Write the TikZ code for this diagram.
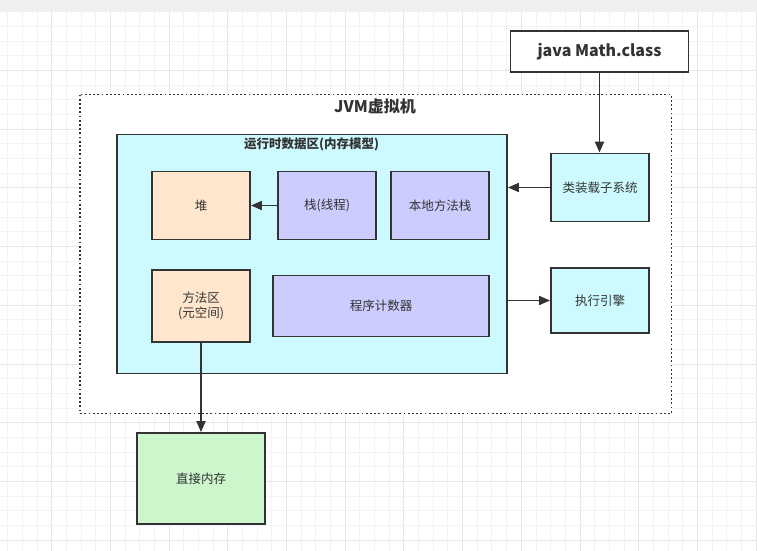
\documentclass[tikz,border=0pt]{standalone}
\usepackage{fontspec}
\setmainfont{Noto Sans CJK SC}
\usetikzlibrary{arrows.meta}
\definecolor{edge}{RGB}{51,51,51}
\definecolor{cyanfill}{RGB}{204,250,255}
\definecolor{peach}{RGB}{255,230,204}
\definecolor{lilac}{RGB}{204,204,255}
\definecolor{mint}{RGB}{204,246,204}
\definecolor{gridminor}{RGB}{243,243,243}
\definecolor{gridmajor}{RGB}{230,230,230}

\begin{document}
\begin{tikzpicture}[x=1pt, y=-1pt,
	box/.style={draw=edge, line width=1.8pt, rectangle, inner sep=0pt, text=edge, font=\fontsize{12.5}{15}\selectfont},
	link/.style={draw=edge, line width=1.8pt, -{Triangle[length=11pt,width=9pt]}}]
		%%%%% START %%%%%
		
		\useasboundingbox (0, 0) rectangle (757, 551);
		\fill[white] (0, 0) rectangle (757, 551);
		\fill[black!6] (0, 0) rectangle (757, 11.8);
		
		\foreach \i in {0,...,51} {
			\pgfmathtruncatemacro{\major}{mod(\i,4)==3}
			\ifnum\major=1
				\draw[gridmajor, line width=1pt] ({7.7+14.675*\i}, 11.8) -- ({7.7+14.675*\i}, 551);
			\else
				\draw[gridminor, line width=1pt] ({7.7+14.675*\i}, 11.8) -- ({7.7+14.675*\i}, 551);
			\fi
		}
		\foreach \k in {1,...,37} {
			\pgfmathtruncatemacro{\major}{mod(\k,4)==0}
			\ifnum\major=1
				\draw[gridmajor, line width=1pt] (0, {11.8+14.675*\k}) -- (757, {11.8+14.675*\k});
			\else
				\draw[gridminor, line width=1pt] (0, {11.8+14.675*\k}) -- (757, {11.8+14.675*\k});
			\fi
		}
		
		\draw[fill=white, draw=edge, line width=1.8pt, dash pattern=on 1.8pt off 2.4pt] (80, 94.5) rectangle (671.5, 413.5);
		\node[text=edge, font=\fontsize{16}{19}\selectfont\bfseries] (jvmtitle) at (375, 106) {JVM虚拟机};
		
		\node[box, fill=white, minimum width=178pt, minimum height=41pt, font=\fontsize{16}{19}\selectfont\bfseries] (classfile) at (599.5, 51.5) {java Math.class};
		
		\node[box, fill=cyanfill, minimum width=390pt, minimum height=239pt] (rda) at (312, 254) {};
		\node[text=edge, font=\fontsize{12.5}{15}\selectfont\bfseries] (rdatitle) at (311.5, 144) {运行时数据区(内存模型)};
		
		\node[box, fill=peach, minimum width=98pt, minimum height=68pt] (heap) at (201, 205.5) {堆};
		\node[box, fill=lilac, minimum width=98pt, minimum height=68pt] (stack) at (327, 205.5) {栈(线程)};
		\node[box, fill=lilac, minimum width=98pt, minimum height=68pt] (native) at (440, 205.5) {本地方法栈};
		\node[box, fill=peach, minimum width=98pt, minimum height=72pt, align=center] (method) at (201, 306) {方法区\\(元空间)};
		\node[box, fill=lilac, minimum width=216pt, minimum height=61pt] (counter) at (381, 306) {程序计数器};
		
		\node[box, fill=cyanfill, minimum width=98pt, minimum height=68pt] (loader) at (600, 187.5) {类装载子系统};
		\node[box, fill=cyanfill, minimum width=98pt, minimum height=65pt] (engine) at (600, 300.5) {执行引擎};
		
		\node[box, fill=mint, minimum width=128pt, minimum height=91pt] (direct) at (201, 478.5) {直接内存};
		
		\draw[link] (classfile.south) -- (classfile.south |- loader.north);
		\draw[link] (loader.west) -- (loader.west -| rda.east);
		\draw[link] (stack.west) -- (heap.east);
		\draw[link] (engine.west -| rda.east) -- (engine.west);
		\draw[link] (method.south) -- (direct.north);
		
		%%%%% END %%%%%
\end{tikzpicture}
\end{document}
